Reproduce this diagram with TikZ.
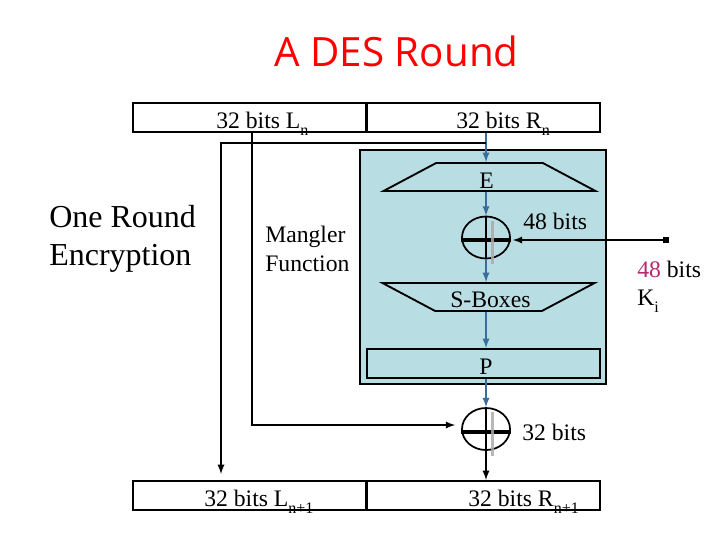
\documentclass[tikz,border=0pt]{standalone}
\usepackage{fontspec}
\setmainfont{Liberation Serif}
\newfontfamily\titlefont{Open Sans}
\usepackage{xcolor}
\usetikzlibrary{arrows, shapes.geometric}
\definecolor{hullblue}{HTML}{B8DDE3}
\definecolor{flowblue}{HTML}{3A6C9C}
\definecolor{keypink}{HTML}{B32A70}
\newcommand{\lowsub}[1]{\raisebox{-0.3em}{\fontsize{12}{12}\selectfont #1}}
\tikzset{
    halfbox/.style={draw, line width=1.5pt, minimum width=174.75pt, minimum height=21.75pt, inner sep=0},
    funnel/.style={draw, line width=1.4pt, trapezium, trapezium stretches body, trapezium left angle=28, trapezium right angle=28, minimum width=159pt, inner xsep=0, inner ysep=10.5pt},
    xorring/.style={draw, line width=1.3pt, ellipse, minimum width=36pt, minimum height=31.5pt, inner sep=0},
    txt/.style={anchor=base west, inner sep=0, font=\fontsize{17.75}{21}\selectfont},
    flow/.style={flowblue, line width=1.4pt, -latex},
    wire/.style={line width=1.4pt, -latex}
}

\begin{document}
\begin{tikzpicture}[x=0.75pt, y=-0.75pt]
    \useasboundingbox (0, 0) rectangle (720, 540);

    \node[draw, line width=1.5pt, fill=hullblue, minimum width=184.5pt, minimum height=175.5pt, inner sep=0] (hull) at (483, 267) {};
    \node[halfbox] (Ln) at (249.5, 117.5) {};
    \node[halfbox] (Rn) at (483, 117.5) {};
    \node[halfbox] (Lnext) at (249.5, 495.5) {};
    \node[halfbox] (Rnext) at (483, 495.5) {};
    \node[halfbox] (P) at (483.5, 363.5) {};
    \node[funnel] (E) at (489.5, 177) {};
    \node[funnel, shape border rotate=180] (SBoxes) at (488.5, 297) {};
    \node[xorring] (xorKey) at (486, 237.5) {};
    \node[xorring] (xorL) at (486, 429) {};
    \node[fill, minimum size=4.5pt, inner sep=0] (keyEnd) at (666, 240) {};

    \coordinate (tapR) at (221, 143);
    \coordinate (dropL) at (221, 474);
    \coordinate (tapL) at (252, 425);

    \draw[flow] (xorKey |- Rn.south) -- (xorKey |- E.north);
    \draw[flow] (xorKey |- E.south) -- (xorKey.north);
    \draw[flow] (xorKey.south) -- (xorKey |- SBoxes.north);
    \draw[flow] (xorKey |- SBoxes.south) -- (xorKey |- P.north);
    \draw[flow] (xorKey |- P.south) -- (xorL.north);
    \draw[wire] (xorL.south) -- (xorL |- Rnext.north);

    \draw[wire] (xorKey |- tapR) -- (tapR) -- (dropL);
    \draw[wire, shorten >=4.5pt] (tapL |- Ln.south) -- (tapL) -- (xorL.west |- tapL);
    \draw[wire, shorten >=1.5pt] (keyEnd) -- (xorKey.east |- keyEnd);

    \foreach \xorname/\bary in {xorKey/240, xorL/432} {
        \draw[line width=3.5pt] (\xorname.west |- 0, \bary) -- (\xorname.east |- 0, \bary);
        \draw[line width=2pt] (\xorname.north) -- (\xorname.south);
        \draw[line width=2.25pt, black!33, opacity=0.85] ([shift={(6, 5)}]\xorname.north) -- ([shift={(6, 5)}]\xorname.south);
    }

    \node[anchor=base, inner sep=0, red, font=\titlefont\fontsize{30.25}{36}\selectfont] (title) at (396.5, 66) {A DES Round};
    \node[txt] (LnText) at (216, 128) {32 bits L\lowsub{n}};
    \node[txt] (RnText) at (456, 128) {32 bits R\lowsub{n}};
    \node[txt] (LnextText) at (204, 506) {32 bits L\lowsub{n+1}};
    \node[txt] (RnextText) at (468, 506) {32 bits R\lowsub{n+1}};
    \node[txt] (EText) at (479, 188) {E};
    \node[txt] (PText) at (479, 374) {P};
    \node[txt] (SBoxesText) at (450, 307) {S-Boxes};
    \node[txt] (keyBits) at (523, 229) {48 bits};
    \node[txt] (outBits) at (522, 440) {32 bits};
    \node[txt] (mangler) at (265, 242) {Mangler};
    \node[txt] (manglerB) at (265, 271) {Function};
    \node[txt, font=\fontsize{24}{28}\selectfont] (oneRound) at (49, 227) {One Round};
    \node[txt, font=\fontsize{24}{28}\selectfont] (encryption) at (49, 265) {Encryption};
    \node[txt] (roundKeyBits) at (637, 277) {\textcolor{keypink}{48} bits};
    \node[txt] (roundKey) at (637, 305) {K\lowsub{i}};
\end{tikzpicture}
\end{document}
